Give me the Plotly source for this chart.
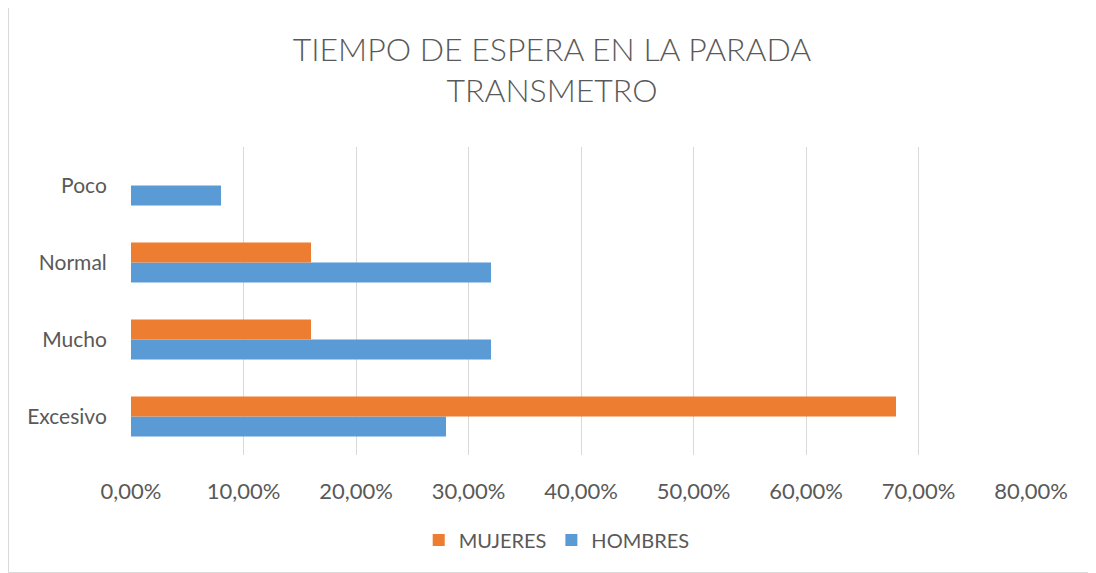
import plotly.graph_objects as go

categories = ["Excesivo", "Mucho", "Normal", "Poco"]
mujeres = [0.68, 0.16, 0.16, 0.0]
hombres = [0.28, 0.32, 0.32, 0.08]
tick_vals = [0, 0.1, 0.2, 0.3, 0.4, 0.5, 0.6, 0.7, 0.8]

FONT = "Lato"
TXT = "#595959"
GRID = "#d9d9d9"

fig = go.Figure()
fig.add_trace(go.Bar(y=categories, x=hombres, name="HOMBRES", orientation="h",
                     marker=dict(color="#5B9BD5", line=dict(width=0))))
fig.add_trace(go.Bar(y=categories, x=mujeres, name="MUJERES", orientation="h",
                     marker=dict(color="#ED7D31", line=dict(width=0))))

W, H = 1088, 565
L, R, T, B = 123, 65, 139, 118
pw, ph = W - L - R, H - T - B

def px(x):
    return (x - L) / pw

def py(y):
    return (H - B - y) / ph

fig.update_layout(
    width=W, height=H,
    margin=dict(l=L, r=R, t=T, b=B),
    paper_bgcolor="white", plot_bgcolor="white",
    separators=",.",
    barmode="group", bargap=0.48, bargroupgap=0,
    font=dict(family=FONT, color=TXT, size=21),
    title=dict(text="TIEMPO DE ESPERA EN LA PARADA<br>TRANSMETRO",
               x=0.5, xanchor="center", xref="container",
               y=0.907, yanchor="middle", yref="container",
               font=dict(family=FONT, size=32, color=TXT, weight=300)),
    xaxis=dict(range=[0, 0.8], tickvals=tick_vals, tickformat=".2%",
               showgrid=True, gridcolor=GRID, gridwidth=1,
               zeroline=False, showline=False,
               ticks="outside", ticklen=17, tickcolor="rgba(0,0,0,0)",
               tickfont=dict(size=22, color=TXT, family=FONT)),
    yaxis=dict(showgrid=False, zeroline=False, showline=False,
               ticks="outside", ticklen=19, tickcolor="rgba(0,0,0,0)",
               tickfont=dict(size=21, color=TXT, family=FONT)),
    legend=dict(orientation="h", x=0.473, xanchor="center",
                y=py(532), yanchor="middle",
                traceorder="reversed", font=dict(size=20, color=TXT, family=FONT),
                itemwidth=30),
    shapes=[dict(type="path", xref="paper", yref="paper",
                 path=f"M {px(0.5)} {py(-10)} L {px(0.5)} {py(564.5)} "
                      f"L {px(1087.5)} {py(564.5)} L {px(1087.5)} {py(-10)}",
                 line=dict(color=GRID, width=1), layer="below")],
)

fig.write_html("out.html")
